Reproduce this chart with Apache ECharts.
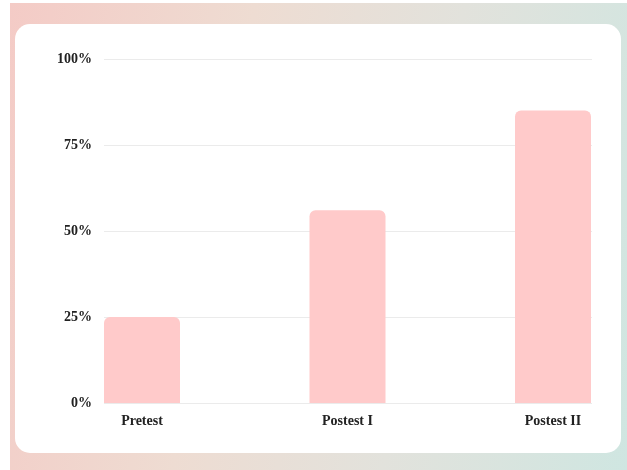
<!DOCTYPE html>
<html>
<head>
<meta charset="utf-8">
<script src="https://cdn.jsdelivr.net/npm/echarts@6/dist/echarts.min.js"></script>
<style>
  html, body { margin: 0; padding: 0; width: 627px; height: 470px; overflow: hidden; background: #fff; }
  .bg {
    position: absolute; left: 10px; top: 3px; width: 617px; height: 467px;
    background: linear-gradient(100deg, #f4cbc6 0%, #eedcd2 35%, #e2e2dc 65%, #cfe6e1 100%);
  }
  .card {
    position: absolute; left: 15px; top: 24px; width: 606px; height: 429px;
    background: #fff; border-radius: 15px;
  }
  #box { position: absolute; left: 0; top: 0; width: 627px; height: 470px; }
</style>
</head>
<body>
<div class="bg"></div>
<div class="card"></div>
<div id="box"></div>
<script>
// data
const categories = ["Pretest", "Postest I", "Postest II"];
const scores = [25, 56, 85];
const yTicks = { min: 0, max: 100, interval: 25 };

const font = "'Liberation Serif', 'Times New Roman', serif";

let myChart = echarts.init(document.getElementById("box"));
let option = {
  animation: false,
  grid: [
    // grid for the split lines and y labels
    { left: 104, right: 35, top: 59, bottom: 67 },
    // grid for the bars (first/last bar centred on the edges)
    { left: 142, right: 74, top: 59, bottom: 67 }
  ],
  xAxis: [
    { gridIndex: 0, type: "category", data: categories, show: false },
    {
      gridIndex: 1,
      type: "category",
      data: categories,
      boundaryGap: false,
      axisLine: { show: false },
      axisTick: { show: false },
      axisLabel: { color: "#222", fontFamily: font, fontWeight: "bold", fontSize: 14, margin: 11 }
    }
  ],
  yAxis: [
    {
      gridIndex: 0,
      type: "value",
      min: yTicks.min,
      max: yTicks.max,
      interval: yTicks.interval,
      axisLine: { show: false },
      axisTick: { show: false },
      splitLine: { lineStyle: { color: "#ebebeb", width: 1 } },
      axisLabel: { color: "#222", fontFamily: font, fontWeight: "bold", fontSize: 14, margin: 12, formatter: "{value}%" }
    },
    { gridIndex: 1, type: "value", min: yTicks.min, max: yTicks.max, show: false }
  ],
  series: [
    {
      type: "bar",
      xAxisIndex: 1,
      yAxisIndex: 1,
      data: scores,
      barWidth: 76,
      clip: false,
      itemStyle: { color: "#ffcaca", borderRadius: [6, 6, 0, 0] }
    }
  ]
};
myChart.setOption(option);
</script>
</body>
</html>
